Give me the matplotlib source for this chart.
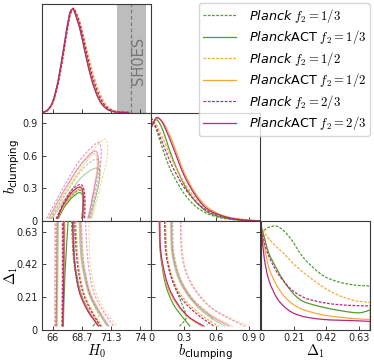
import numpy as np
import matplotlib
matplotlib.use('Agg')
import matplotlib.pyplot as plt
from matplotlib.path import Path
from matplotlib.patches import PathPatch
from matplotlib.lines import Line2D

plt.rcParams['font.family'] = ['DejaVu Sans']
plt.rcParams['mathtext.fontset'] = 'custom'
plt.rcParams['mathtext.rm'] = 'cmr10'
plt.rcParams['mathtext.it'] = 'cmmi10'
plt.rcParams['mathtext.sf'] = 'DejaVu Sans:italic'
plt.rcParams['mathtext.bf'] = 'DejaVu Sans'

# ------------------------------------------------------------------ data
series_names = ['Planck f2=1/3', 'PlanckACT f2=1/3', 'Planck f2=1/2',
                'PlanckACT f2=1/2', 'Planck f2=2/3', 'PlanckACT f2=2/3']
legend_labels = [r'$\mathsf{Planck}$ $f_2=1/3$', r'$\mathsf{Planck}$ACT $f_2=1/3$',
                 r'$\mathsf{Planck}$ $f_2=1/2$', r'$\mathsf{Planck}$ACT $f_2=1/2$',
                 r'$\mathsf{Planck}$ $f_2=2/3$', r'$\mathsf{Planck}$ACT $f_2=2/3$']

h0_ticks = [66, 68.67, 71.33, 74]
h0_tick_labels = ['66', '68.7', '71.3', '74']
b_ticks = [0, 0.3, 0.6, 0.9]
b_tick_labels = ['0', '0.3', '0.6', '0.9']
d1_ticks = [0, 0.21, 0.42, 0.63]
d1_tick_labels = ['0', '0.21', '0.42', '0.63']

shoes_h0 = 73.2
shoes_err = 1.3

# 1D marginals (normalised to peak 1)
h0_grid = [65.0, 65.5, 66.0, 66.5, 67.0, 67.5, 67.8, 68.0, 68.5, 69.0, 69.5, 70.0, 70.5, 71.0, 71.5, 72.0, 73.0]
h0_pdf = [
    [0, 0.02, 0.10, 0.30, 0.60, 0.92, 1.00, 0.98, 0.83, 0.60, 0.38, 0.21, 0.10, 0.040, 0.015, 0.005, 0],
    [0, 0.02, 0.11, 0.32, 0.63, 0.94, 1.00, 0.97, 0.80, 0.56, 0.34, 0.18, 0.08, 0.030, 0.010, 0.003, 0],
    [0, 0.02, 0.09, 0.28, 0.57, 0.90, 0.99, 1.00, 0.87, 0.66, 0.45, 0.27, 0.14, 0.060, 0.025, 0.010, 0],
    [0, 0.02, 0.10, 0.30, 0.61, 0.93, 1.00, 0.98, 0.82, 0.59, 0.37, 0.20, 0.09, 0.035, 0.012, 0.004, 0],
    [0, 0.02, 0.10, 0.29, 0.59, 0.91, 1.00, 0.99, 0.85, 0.62, 0.40, 0.23, 0.11, 0.045, 0.017, 0.006, 0],
    [0, 0.025, 0.11, 0.32, 0.63, 0.94, 1.00, 0.97, 0.80, 0.56, 0.34, 0.18, 0.08, 0.030, 0.010, 0.003, 0],
]

b_grid = [0, 0.05, 0.1, 0.15, 0.2, 0.3, 0.4, 0.5, 0.6, 0.7, 0.8, 0.9, 1.0]
b_pdf = [
    [1.00, 0.88, 0.72, 0.57, 0.45, 0.27, 0.15, 0.08, 0.04, 0.020, 0.010, 0.003, 0],
    [0.92, 0.98, 0.90, 0.75, 0.60, 0.36, 0.20, 0.10, 0.05, 0.025, 0.010, 0.004, 0],
    [1.00, 0.93, 0.82, 0.70, 0.58, 0.38, 0.23, 0.13, 0.07, 0.040, 0.020, 0.010, 0],
    [0.90, 0.99, 0.97, 0.88, 0.76, 0.48, 0.28, 0.15, 0.08, 0.040, 0.020, 0.010, 0],
    [1.00, 0.90, 0.77, 0.64, 0.52, 0.33, 0.20, 0.11, 0.06, 0.030, 0.015, 0.005, 0],
    [0.90, 1.00, 0.96, 0.85, 0.72, 0.45, 0.26, 0.13, 0.07, 0.035, 0.015, 0.005, 0],
]

d1_grid = [0, 0.02, 0.05, 0.1, 0.15, 0.2, 0.25, 0.3, 0.4, 0.5, 0.6, 0.65, 0.7]
d1_pdf = [
    [0.93, 0.96, 0.99, 1.00, 0.95, 0.86, 0.74, 0.65, 0.52, 0.46, 0.43, 0.425, 0.42],
    [1.00, 0.90, 0.74, 0.59, 0.46, 0.36, 0.29, 0.255, 0.215, 0.185, 0.163, 0.165, 0.19],
    [1.00, 0.94, 0.88, 0.80, 0.73, 0.65, 0.58, 0.52, 0.41, 0.33, 0.28, 0.27, 0.26],
    [1.00, 0.82, 0.60, 0.43, 0.32, 0.25, 0.205, 0.178, 0.14, 0.12, 0.105, 0.10, 0.097],
    [1.00, 0.85, 0.71, 0.56, 0.46, 0.38, 0.33, 0.295, 0.26, 0.24, 0.232, 0.23, 0.227],
    [1.00, 0.70, 0.48, 0.31, 0.22, 0.165, 0.135, 0.117, 0.097, 0.09, 0.085, 0.082, 0.078],
]

# 2D contours (H0, b_clumping): 68% and 95% boundaries
h0_b_68 = [
    [(66.4, 0.02), (66.9, 0.12), (67.6, 0.22), (68.3, 0.28), (68.7, 0.27), (68.85, 0.18), (68.8, 0.02)],
    [(66.5, 0.02), (67.0, 0.12), (67.7, 0.21), (68.35, 0.26), (68.7, 0.24), (68.75, 0.15), (68.65, 0.02)],
    [(66.3, 0.02), (66.85, 0.13), (67.6, 0.25), (68.3, 0.31), (68.75, 0.30), (68.9, 0.20), (68.85, 0.02)],
    [(66.45, 0.02), (66.95, 0.13), (67.7, 0.24), (68.35, 0.29), (68.7, 0.27), (68.8, 0.17), (68.7, 0.02)],
    [(66.3, 0.02), (66.85, 0.14), (67.6, 0.27), (68.3, 0.33), (68.75, 0.32), (68.95, 0.20), (68.9, 0.02)],
    [(66.4, 0.02), (66.9, 0.14), (67.7, 0.26), (68.35, 0.31), (68.7, 0.29), (68.8, 0.18), (68.7, 0.02)],
]
h0_b_95 = [
    [(65.8, 0.02), (67.0, 0.22), (68.5, 0.45), (69.7, 0.56), (70.25, 0.55), (70.3, 0.42), (69.9, 0.20), (69.5, 0.02)],
    [(65.9, 0.02), (67.1, 0.20), (68.5, 0.39), (69.7, 0.48), (70.25, 0.47), (70.25, 0.36), (69.8, 0.18), (69.4, 0.02)],
    [(65.7, 0.02), (67.0, 0.26), (68.6, 0.52), (70.4, 0.73), (70.9, 0.74), (71.0, 0.60), (70.3, 0.30), (69.6, 0.02)],
    [(65.8, 0.02), (67.0, 0.24), (68.5, 0.47), (69.5, 0.60), (69.95, 0.61), (70.05, 0.50), (69.7, 0.25), (69.3, 0.02)],
    [(65.4, 0.02), (66.8, 0.28), (68.4, 0.55), (69.9, 0.71), (70.35, 0.70), (70.4, 0.56), (69.9, 0.28), (69.3, 0.02)],
    [(65.6, 0.02), (66.9, 0.26), (68.4, 0.50), (69.6, 0.63), (70.05, 0.63), (70.15, 0.50), (69.7, 0.25), (69.2, 0.02)],
]

# 2D contours (H0, Delta_1): left and right boundaries
h0_d1_68_left = [
    [(66.95, 0.02), (66.95, 0.35), (66.9, 0.70)],
    [(66.95, 0.02), (67.1, 0.35), (67.4, 0.70)],
    [(66.8, 0.02), (66.85, 0.35), (66.85, 0.70)],
    [(66.9, 0.02), (67.0, 0.35), (67.1, 0.70)],
    [(66.85, 0.02), (66.9, 0.35), (66.9, 0.70)],
    [(66.9, 0.02), (67.0, 0.35), (67.0, 0.70)],
]
h0_d1_68_right = [
    [(67.7, 0.70), (67.9, 0.45), (68.4, 0.25), (69.2, 0.12), (69.9, 0.05), (69.6, 0.02)],
    [(67.9, 0.70), (68.0, 0.45), (68.5, 0.25), (69.3, 0.12), (70.2, 0.02)],
    [(68.1, 0.70), (68.3, 0.45), (68.8, 0.25), (69.6, 0.12), (70.5, 0.02)],
    [(67.8, 0.70), (67.95, 0.45), (68.45, 0.25), (69.3, 0.12), (70.3, 0.02)],
    [(68.0, 0.70), (68.2, 0.45), (68.7, 0.25), (69.5, 0.12), (70.4, 0.02)],
    [(67.8, 0.70), (67.95, 0.45), (68.4, 0.25), (69.2, 0.12), (70.2, 0.02)],
]
h0_d1_95_left = [
    [(66.3, 0.02), (66.35, 0.35), (66.35, 0.70)],
    [(66.4, 0.02), (66.45, 0.35), (66.5, 0.70)],
    [(66.15, 0.02), (66.2, 0.35), (66.2, 0.70)],
    [(66.3, 0.02), (66.35, 0.35), (66.4, 0.70)],
    [(66.2, 0.02), (66.2, 0.35), (66.2, 0.70)],
    [(66.3, 0.02), (66.35, 0.35), (66.4, 0.70)],
]
h0_d1_95_right = [
    [(68.6, 0.70), (68.8, 0.45), (69.3, 0.25), (69.9, 0.14), (70.2, 0.08), (69.7, 0.02)],
    [(68.4, 0.70), (68.6, 0.45), (69.2, 0.25), (70.1, 0.12), (71.0, 0.02)],
    [(69.3, 0.70), (69.4, 0.45), (69.9, 0.25), (70.8, 0.12), (71.9, 0.02)],
    [(68.6, 0.70), (68.8, 0.45), (69.4, 0.25), (70.3, 0.12), (71.2, 0.02)],
    [(69.0, 0.70), (69.2, 0.45), (69.7, 0.25), (70.6, 0.12), (71.6, 0.02)],
    [(68.5, 0.70), (68.7, 0.45), (69.3, 0.25), (70.2, 0.12), (71.1, 0.02)],
]

# 2D contours (b_clumping, Delta_1): upper boundaries in b
b_d1_68 = [
    [(0.13, 0.70), (0.14, 0.50), (0.18, 0.35), (0.25, 0.22), (0.31, 0.12), (0.32, 0.07), (0.26, 0.02)],
    [(0.075, 0.70), (0.085, 0.50), (0.13, 0.30), (0.20, 0.17), (0.29, 0.08), (0.36, 0.02)],
    [(0.135, 0.70), (0.145, 0.50), (0.20, 0.33), (0.30, 0.20), (0.45, 0.10), (0.62, 0.02)],
    [(0.08, 0.70), (0.09, 0.50), (0.14, 0.30), (0.23, 0.17), (0.34, 0.08), (0.47, 0.02)],
    [(0.125, 0.70), (0.135, 0.50), (0.19, 0.33), (0.28, 0.20), (0.42, 0.10), (0.58, 0.02)],
    [(0.08, 0.70), (0.09, 0.50), (0.15, 0.30), (0.24, 0.17), (0.35, 0.08), (0.49, 0.02)],
]
b_d1_95 = [
    [(0.20, 0.70), (0.21, 0.50), (0.27, 0.33), (0.38, 0.20), (0.50, 0.12), (0.56, 0.07), (0.50, 0.02)],
    [(0.18, 0.70), (0.19, 0.50), (0.25, 0.33), (0.36, 0.20), (0.50, 0.10), (0.68, 0.02)],
    [(0.28, 0.70), (0.29, 0.50), (0.34, 0.35), (0.45, 0.22), (0.60, 0.12), (0.90, 0.02)],
    [(0.19, 0.70), (0.20, 0.50), (0.27, 0.33), (0.38, 0.20), (0.54, 0.10), (0.75, 0.02)],
    [(0.27, 0.70), (0.28, 0.50), (0.33, 0.35), (0.44, 0.22), (0.59, 0.12), (0.86, 0.02)],
    [(0.19, 0.70), (0.20, 0.50), (0.26, 0.33), (0.37, 0.20), (0.52, 0.10), (0.72, 0.02)],
]

# ------------------------------------------------------------------ style
colors = ['#4f9e2f', '#4f9e2f', '#f6a93b', '#f6a93b', '#b8287c', '#b8287c']
dashed = [True, False, True, False, True, False]
DASH = (0, (2.2, 1.2))


def smooth_path(pts):
    P = np.asarray(pts, dtype=float)
    n = len(P)
    verts = [P[0]]
    codes = [Path.MOVETO]
    for i in range(n - 1):
        p0 = P[i - 1] if i > 0 else P[i]
        p1 = P[i]
        p2 = P[i + 1]
        p3 = P[i + 2] if i + 2 < n else P[i + 1]
        verts += [p1 + (p2 - p0) / 6.0, p2 - (p3 - p1) / 6.0, p2]
        codes += [Path.CURVE4] * 3
    return Path(verts, codes)


def draw_curve(ax, pts, i, alpha=1.0, lw=0.85, z=2):
    ls = DASH if dashed[i] else '-'
    ax.add_patch(PathPatch(smooth_path(pts), fill=False, edgecolor=colors[i],
                           lw=lw, linestyle=ls, alpha=alpha, zorder=z,
                           capstyle='butt', joinstyle='round'))


W, H = 374, 364
fig = plt.figure(figsize=(W / 100, H / 100), dpi=100)
cols_x = [42, 151, 261]
rows_y = [4, 112.5, 221]
pw, ph = 109, 108.5


def make_ax(r, c):
    return fig.add_axes([cols_x[c] / W, 1 - (rows_y[r] + ph) / H, pw / W, ph / H])


ax00 = make_ax(0, 0)
ax10 = make_ax(1, 0)
ax11 = make_ax(1, 1)
ax20 = make_ax(2, 0)
ax21 = make_ax(2, 1)
ax22 = make_ax(2, 2)

h0_lim = (65, 75)
b_lim = (0, 1.0)
d1_lim = (0, 0.7)

for ax in [ax00, ax10, ax11, ax20, ax21, ax22]:
    for s in ax.spines.values():
        s.set_color('#3a3a3a')
        s.set_linewidth(0.8)
    ax.tick_params(direction='in', length=3, width=0.6, labelsize=7,
                   colors='#222222', pad=2.5)

# 1D H0
ax00.axvspan(shoes_h0 - shoes_err, shoes_h0 + shoes_err, color='#bdbdbd', lw=0, zorder=0)
ax00.axvline(shoes_h0, color='#7a7a7a', lw=0.9, ls=(0, (3, 2)), zorder=1)
ax00.text(shoes_h0 + 0.62, 0.5, 'SH0ES', rotation=90, ha='center', va='center',
          color='#777777', fontsize=10.5)
for i in range(6):
    draw_curve(ax00, list(zip(h0_grid, h0_pdf[i])), i, lw=0.9)
ax00.set_xlim(*h0_lim)
ax00.set_ylim(0, 1.05)

# 1D b
for i in range(6):
    draw_curve(ax11, list(zip(b_grid, b_pdf[i])), i, lw=0.9)
ax11.set_xlim(*b_lim)
ax11.set_ylim(0, 1.05)

# 1D Delta1
for i in range(6):
    draw_curve(ax22, list(zip(d1_grid, d1_pdf[i])), i, lw=0.9)
    ax22.plot([d1_grid[-1], d1_grid[-1]], [d1_pdf[i][-1], 0], color=colors[i],
              lw=0.9, ls=DASH if dashed[i] else '-')
ax22.set_xlim(*d1_lim)
ax22.set_ylim(0, 1.05)

# 2D H0-b
for i in range(6):
    draw_curve(ax10, h0_b_95[i], i, alpha=0.45, z=2)
for i in range(6):
    draw_curve(ax10, h0_b_68[i], i, alpha=1.0, z=3)
ax10.set_xlim(*h0_lim)
ax10.set_ylim(*b_lim)

# 2D H0-Delta1
for i in range(6):
    draw_curve(ax20, h0_d1_95_left[i], i, alpha=0.45, z=2)
    draw_curve(ax20, h0_d1_95_right[i], i, alpha=0.45, z=2)
for i in range(6):
    draw_curve(ax20, h0_d1_68_left[i], i, alpha=1.0, z=3)
    draw_curve(ax20, h0_d1_68_right[i], i, alpha=1.0, z=3)
ax20.set_xlim(*h0_lim)
ax20.set_ylim(*d1_lim)

# 2D b-Delta1
for i in range(6):
    draw_curve(ax21, b_d1_95[i], i, alpha=0.45, z=2)
for i in range(6):
    draw_curve(ax21, b_d1_68[i], i, alpha=1.0, z=3)
ax21.set_xlim(*b_lim)
ax21.set_ylim(*d1_lim)

# ticks
for ax in [ax00, ax10, ax20]:
    ax.set_xticks(h0_ticks)
    ax.set_xticklabels(h0_tick_labels)
for ax in [ax11, ax21]:
    ax.set_xticks(b_ticks)
    ax.set_xticklabels(b_tick_labels)
ax22.set_xticks(d1_ticks)
ax22.set_xticklabels(d1_tick_labels)
ax10.set_yticks(b_ticks)
ax10.set_yticklabels(b_tick_labels)
for ax in [ax20, ax21]:
    ax.set_yticks(d1_ticks)
    ax.set_yticklabels(d1_tick_labels)
for ax in [ax00, ax11, ax22]:
    ax.set_yticks([])
for ax in [ax10, ax20, ax21]:
    ax.tick_params(right=True)
for ax in [ax00, ax10, ax11]:
    ax.tick_params(labelbottom=False)
ax21.tick_params(labelleft=False)
ax10.tick_params(axis='y', pad=3)
ax20.tick_params(axis='y', pad=3)

# axis labels
lab_fs = 10.5
fig.text((cols_x[0] + pw / 2) / W, 1 - 355.5 / H, r'$H_0$', ha='center', va='baseline', fontsize=lab_fs)
fig.text((cols_x[1] + pw / 2) / W, 1 - 355.5 / H, r'$b_{\mathbf{clumping}}$', ha='center', va='baseline', fontsize=lab_fs)
fig.text((cols_x[2] + pw / 2) / W, 1 - 355.5 / H, r'$\Delta_1$', ha='center', va='baseline', fontsize=lab_fs)
fig.text(15.5 / W, 1 - (rows_y[1] + ph / 2) / H, r'$b_{\mathbf{clumping}}$', rotation=90,
         rotation_mode='anchor', ha='center', va='baseline', fontsize=lab_fs)
fig.text(15.5 / W, 1 - (rows_y[2] + ph / 2) / H, r'$\Delta_1$', rotation=90,
         rotation_mode='anchor', ha='center', va='baseline', fontsize=lab_fs)

# legend
handles = [Line2D([], [], color=colors[i], lw=0.9, ls=DASH if dashed[i] else '-')
           for i in range(6)]
fig.legend(handles, legend_labels, loc='upper right', bbox_to_anchor=(370 / W, 1 - 3 / H),
           bbox_transform=fig.transFigure, fontsize=9.2, handlelength=2.6,
           handletextpad=1.0, labelspacing=0.27, borderpad=0.3, borderaxespad=0,
           frameon=True, fancybox=True, edgecolor='#cccccc')

fig.savefig('out.png', dpi=100)
